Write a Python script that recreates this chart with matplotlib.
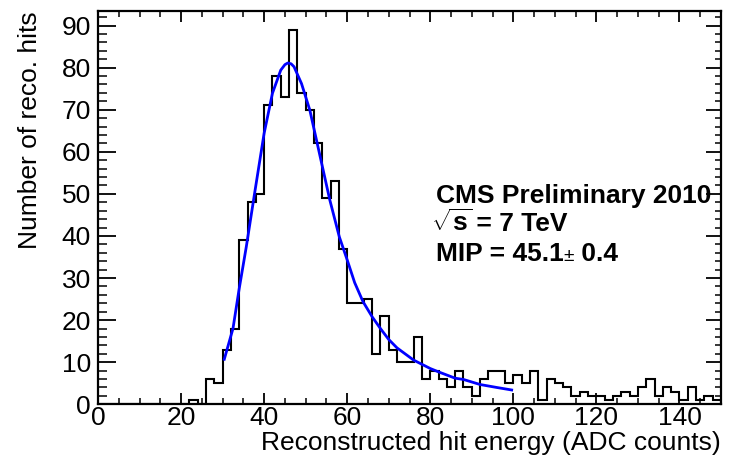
import numpy as np
import matplotlib
matplotlib.use("Agg")
import matplotlib.pyplot as plt
from matplotlib.ticker import MultipleLocator

plt.rcParams['font.family'] = ['Liberation Sans', 'DejaVu Sans']
plt.rcParams['mathtext.fontset'] = 'custom'
plt.rcParams['mathtext.rm'] = 'Liberation Sans'
plt.rcParams['mathtext.bf'] = 'Liberation Sans:bold'

# Histogram: 2 ADC-count bins from 0 to 150
bin_edges = np.arange(0, 152, 2)
counts = [0, 0, 0, 0, 0, 0, 0, 0, 0, 0, 0,   # 0-20
          1, 0, 6, 5, 13, 18, 39, 48, 50,      # 22-38
          71, 78, 73, 89, 74, 70, 62, 49, 53, 37,  # 40-58
          24, 24, 25, 12, 21, 13, 10, 10, 16, 6,   # 60-78
          8, 6, 4, 8, 4, 2, 6, 8, 8, 5,            # 80-98
          7, 5, 8, 1, 6, 5, 4, 2, 3, 2,            # 100-118
          2, 1, 2, 3, 2, 4, 6, 2, 4, 3,            # 120-138
          1, 4, 1, 2, 1]                           # 140-148

# Fit curve points
fit_x = [30.4, 32.5, 34.0, 35.7, 37.7, 40.0, 42.0, 44.0, 45.0, 45.7, 46.5, 47.2,
         49.0, 51.0, 52.6, 54.2, 55.8, 58.1, 60.0, 61.8, 63.8, 66.0, 68.0,
         70.0, 72.0, 76.0, 80.0, 82.0, 86.0, 88.0, 92.0, 96.0, 99.6]
fit_y = [10.7, 18.0, 27.5, 37.4, 50.1, 64.4, 73.9, 79.4, 80.7, 81.1, 80.9, 80.2,
         76.2, 69.9, 62.8, 55.7, 48.6, 39.8, 34.3, 28.9, 24.4, 20.8, 18.0,
         15.4, 13.4, 10.5, 8.5, 7.7, 6.2, 5.9, 4.7, 4.0, 3.4]

x_ticks = [0, 20, 40, 60, 80, 100, 120, 140]
y_ticks = [0, 10, 20, 30, 40, 50, 60, 70, 80, 90]

W, H = 729, 459
fig = plt.figure(figsize=(W / 100, H / 100), dpi=100)
ax_left, ax_right, ax_top, ax_bot = 98, 721, 11, 404.3
ax = fig.add_axes([ax_left / W, 1 - ax_bot / H, (ax_right - ax_left) / W, (ax_bot - ax_top) / H])

ax.stairs(counts, bin_edges, color='black', linewidth=1.5, baseline=0)
ax.plot(fit_x, fit_y, color='#0000ff', linewidth=2.0)

ax.set_xlim(0, 150)
ax.set_ylim(0, 93.45)
ax.set_xticks(x_ticks)
ax.set_yticks(y_ticks)
ax.xaxis.set_minor_locator(MultipleLocator(5))
ax.yaxis.set_minor_locator(MultipleLocator(2))

for s in ax.spines.values():
    s.set_linewidth(1.6)

fs = 19
ax.tick_params(axis='x', which='major', direction='in', length=8, width=1.3,
               top=True, labelsize=fs, pad=1)
ax.tick_params(axis='x', which='minor', direction='in', length=4, width=1.1, top=True)
ax.tick_params(axis='y', which='major', direction='in', length=13, width=1.3,
               right=False, labelsize=fs, pad=5)
ax.tick_params(axis='y', which='minor', direction='in', length=6.5, width=1.1, right=False)

# right-side ticks (shorter)
sec = ax.secondary_yaxis('right')
sec.set_yticks(y_ticks)
sec.yaxis.set_minor_locator(MultipleLocator(2))
sec.tick_params(axis='y', which='major', direction='in', length=11, width=1.3, labelright=False)
sec.tick_params(axis='y', which='minor', direction='in', length=4, width=1.1)
sec.spines['right'].set_visible(False)

ax.set_xlabel('Reconstructed hit energy (ADC counts)', fontsize=fs)
ax.xaxis.label.set_horizontalalignment('right')
ax.xaxis.set_label_coords(1.0, -(431 - ax_bot) / (ax_bot - ax_top))
ax.set_ylabel('Number of reco. hits', fontsize=fs)
ax.yaxis.label.set_horizontalalignment('right')
ax.yaxis.set_label_coords((42 - ax_left) / (ax_right - ax_left), 1.0)

# annotations
def chain(x_px, y_px, pieces):
    """Write text pieces one after another on a common baseline (pixel coords)."""
    for txt, dx, kw in pieces:
        x_px += dx
        t = fig.text(x_px / W, 1 - y_px / H, txt, va='baseline', ha='left', **kw)
        fig.canvas.draw()
        x_px = t.get_window_extent().x1

bold = dict(fontsize=fs, fontweight='bold')
chain(436, 203, [('CMS Preliminary 2010', 0, bold)])
chain(431, 231, [(r'$\sqrt{\mathbf{s}}$', 0, bold), (' = 7 TeV', -3, bold)])
chain(436, 261, [('MIP = 45.1', 0, bold), ('\u00b1', 0, dict(fontsize=fs * 0.72)),
                 (' 0.4', 0, bold)])

fig.savefig('out.png', dpi=100)
